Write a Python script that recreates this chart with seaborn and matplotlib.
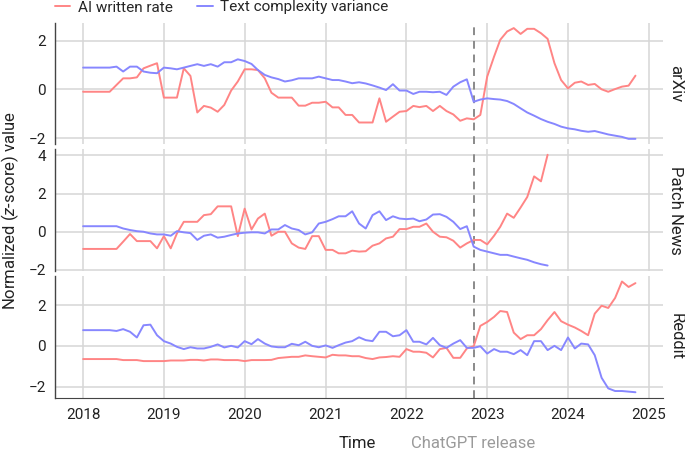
import numpy as np
import pandas as pd
import matplotlib
matplotlib.use("Agg")
import matplotlib.pyplot as plt
import matplotlib.dates as mdates
from matplotlib.lines import Line2D
from matplotlib.ticker import MultipleLocator
import seaborn as sns

# monthly values, Jan 2018 onwards
arxiv_ai = [-0.1, -0.1, -0.1, -0.1, -0.1, 0.18, 0.45, 0.45, 0.49, 0.86, 0.97, 1.07,
            -0.34, -0.34, -0.34, 0.86, 0.55, -0.95, -0.68, -0.75, -0.92, -0.64, -0.05, 0.32,
            0.82, 0.82, 0.79, 0.45, -0.14, -0.34, -0.34, -0.34, -0.67, -0.67, -0.55, -0.55,
            -0.51, -0.74, -0.74, -1.05, -1.05, -1.36, -1.36, -1.36, -0.37, -1.33, -1.12, -0.92,
            -0.89, -0.68, -0.73, -0.68, -0.89, -0.68, -0.89, -1.03, -1.29, -1.19, -1.23, -1.05,
            0.52, 1.34, 2.03, 2.37, 2.51, 2.27, 2.48, 2.48, 2.30, 2.07, 1.07, 0.38,
            0.04, 0.27, 0.32, 0.18, 0.22, 0.0, -0.1, 0.01, 0.11, 0.15, 0.56]
arxiv_tc = [0.89, 0.89, 0.89, 0.89, 0.89, 0.93, 0.73, 0.93, 0.93, 0.73, 0.68, 0.66,
            0.89, 0.86, 0.82, 0.89, 0.96, 1.03, 0.96, 1.03, 0.93, 1.11, 1.11, 1.23,
            1.16, 1.04, 0.79, 0.59, 0.49, 0.42, 0.32, 0.37, 0.45, 0.45, 0.45, 0.52,
            0.45, 0.38, 0.38, 0.32, 0.25, 0.29, 0.24, 0.16, 0.07, -0.03, 0.21, -0.05,
            -0.05, -0.19, -0.1, -0.1, -0.12, -0.1, -0.23, 0.11, 0.29, 0.41, -0.51, -0.42,
            -0.37, -0.40, -0.42, -0.48, -0.60, -0.78, -0.95, -1.08, -1.22, -1.33, -1.42, -1.53,
            -1.60, -1.64, -1.70, -1.74, -1.71, -1.78, -1.85, -1.90, -1.95, -2.03, -2.03]

patch_ai = [-0.90, -0.90, -0.90, -0.90, -0.90, -0.90, -0.52, -0.12, -0.49, -0.49, -0.49, -0.87,
            -0.23, -0.87, -0.09, 0.52, 0.52, 0.52, 0.87, 0.92, 1.33, 1.33, 1.33, -0.23,
            1.21, 0.12, 0.69, 0.95, -0.21, 0.0, 0.0, -0.61, -0.83, -0.90, -0.23, -0.23,
            -0.95, -0.95, -1.13, -1.13, -0.99, -1.04, -1.02, -0.73, -0.61, -0.35, -0.26, 0.14,
            0.14, 0.26, 0.26, 0.43, 0.0, -0.26, -0.29, -0.47, -0.83, -0.61, -0.43, -0.43,
            -0.66, -0.21, 0.26, 0.95, 0.73, 1.27, 1.82, 2.90, 2.64, 4.03]
patch_tc = [0.29, 0.29, 0.29, 0.29, 0.29, 0.29, 0.17, 0.09, 0.03, 0.0, -0.09, -0.14,
            -0.14, -0.21, 0.03, -0.03, -0.07, -0.43, -0.21, -0.14, -0.31, -0.26, -0.17, -0.09,
            -0.05, -0.03, -0.03, -0.09, 0.12, 0.12, 0.35, 0.17, 0.09, -0.14, -0.03, 0.43,
            0.52, 0.66, 0.81, 0.81, 1.07, 0.43, 0.17, 0.87, 1.07, 0.61, 0.81, 0.69,
            0.66, 0.69, 0.55, 0.64, 0.90, 0.92, 0.78, 0.52, 0.14, 0.29, -0.78, -0.95,
            -1.04, -1.13, -1.21, -1.21, -1.30, -1.39, -1.47, -1.60, -1.70, -1.77]

reddit_ai = [-0.65, -0.65, -0.65, -0.65, -0.65, -0.65, -0.70, -0.70, -0.70, -0.75, -0.75, -0.75,
             -0.75, -0.72, -0.72, -0.72, -0.69, -0.69, -0.72, -0.67, -0.67, -0.70, -0.70, -0.70,
             -0.75, -0.70, -0.70, -0.70, -0.69, -0.60, -0.57, -0.54, -0.54, -0.47, -0.51, -0.54,
             -0.57, -0.44, -0.47, -0.47, -0.51, -0.51, -0.60, -0.65, -0.57, -0.55, -0.51, -0.54,
             -0.16, -0.29, -0.29, -0.34, -0.57, -0.16, -0.10, -0.59, -0.59, -0.13, -0.02, 0.98,
             1.17, 1.42, 1.71, 1.66, 0.65, 0.33, 0.52, 0.52, 0.82, 1.26, 1.66, 1.21,
             1.04, 0.90, 0.73, 0.52, 1.58, 1.97, 1.86, 2.35, 3.16, 2.89, 3.08]
reddit_tc = [0.77, 0.77, 0.77, 0.77, 0.77, 0.73, 0.82, 0.69, 0.41, 1.01, 1.04, 0.52,
             0.23, 0.11, -0.05, -0.16, -0.07, -0.13, -0.13, -0.05, 0.07, -0.08, 0.0, -0.08,
             0.23, 0.08, 0.33, 0.11, -0.03, -0.07, -0.07, 0.10, 0.03, 0.20, 0.0, -0.07,
             0.02, -0.10, 0.03, 0.16, 0.23, 0.42, 0.28, 0.23, 0.69, 0.69, 0.47, 0.52,
             0.77, 0.20, 0.20, 0.07, 0.39, 0.03, -0.10, 0.11, 0.28, -0.10, -0.10, -0.02,
             -0.38, -0.16, -0.29, -0.29, -0.41, -0.21, -0.46, 0.23, 0.23, -0.21, 0.0, -0.21,
             0.41, -0.13, 0.11, 0.07, -0.46, -1.57, -2.09, -2.22, -2.22, -2.25, -2.28]

sources = ["arXiv", "Patch News", "Reddit"]
series_names = ["AI written rate", "Text complexity variance"]
release_date = pd.Timestamp("2022-11-01")

rows = []
for src, ai, tc in [("arXiv", arxiv_ai, arxiv_tc),
                    ("Patch News", patch_ai, patch_tc),
                    ("Reddit", reddit_ai, reddit_tc)]:
    months = pd.date_range("2018-01-01", periods=len(ai), freq="MS")
    for name, vals in zip(series_names, [ai, tc]):
        rows.append(pd.DataFrame({"Time": months, "value": vals,
                                  "series": name, "source": src}))
df = pd.concat(rows, ignore_index=True)

sns.set_style("white")
plt.rcParams["font.family"] = ["Roboto", "DejaVu Sans"]
plt.rcParams["mathtext.fontset"] = "custom"
plt.rcParams["mathtext.rm"] = "Roboto"
plt.rcParams["mathtext.it"] = "Roboto:italic"

pal = {"AI written rate": "#ff8585", "Text complexity variance": "#8787ff"}

fig, axes = plt.subplots(3, 1, figsize=(6.85, 4.51), dpi=100, sharex=True)
fig.subplots_adjust(left=0.081, right=0.968, top=0.950, bottom=0.118, hspace=0.04)

for ax, src in zip(axes, sources):
    sub = df[df["source"] == src]
    sns.lineplot(data=sub, x="Time", y="value", hue="series", palette=pal,
                 ax=ax, legend=False, linewidth=1.4)
    ax.axvline(release_date, color="#8a8a8a", lw=1.4, ls=(0, (4, 3)), zorder=1)
    ax.grid(True, color="#d6d6d6", lw=1.1)
    ax.set_axisbelow(True)
    ax.yaxis.set_major_locator(MultipleLocator(2))
    ax.set_ylabel("")
    ax.set_xlabel("")
    for side in ["top", "right", "bottom"]:
        ax.spines[side].set_visible(False)
    ax.spines["left"].set_color("#444444")
    ax.spines["left"].set_linewidth(1.0)
    ax.tick_params(length=0, pad=7, labelsize=11, colors="#222222")
    ax.text(1.021, 0.5, src, rotation=-90, transform=ax.transAxes,
            ha="center", va="center", fontsize=12, color="#222222")

axes[-1].spines["bottom"].set_visible(True)
axes[-1].spines["bottom"].set_color("#444444")
axes[-1].xaxis.set_major_locator(mdates.YearLocator())
axes[-1].xaxis.set_major_formatter(mdates.DateFormatter("%Y"))

fig.text(0.015, 0.534, r"Normalized ($z$-score) value", rotation=90,
         ha="center", va="center", fontsize=12, color="#222222")
fig.text(0.522, 0.017, "Time", ha="center", va="center", fontsize=12, color="#222222")
fig.text(0.690, 0.017, "ChatGPT release", ha="center", va="center",
         fontsize=12, color="#9a9a9a")

handles = [Line2D([], [], color=pal[n], lw=1.4) for n in series_names]
fig.legend(handles, series_names, loc="center left",
           bbox_to_anchor=(55 / 685, 1 - 7.5 / 451), ncol=2, frameon=False,
           handlelength=1.0, handletextpad=0.5, columnspacing=1.6,
           borderaxespad=0, borderpad=0, fontsize=11)

fig.savefig("out.png", dpi=100)
